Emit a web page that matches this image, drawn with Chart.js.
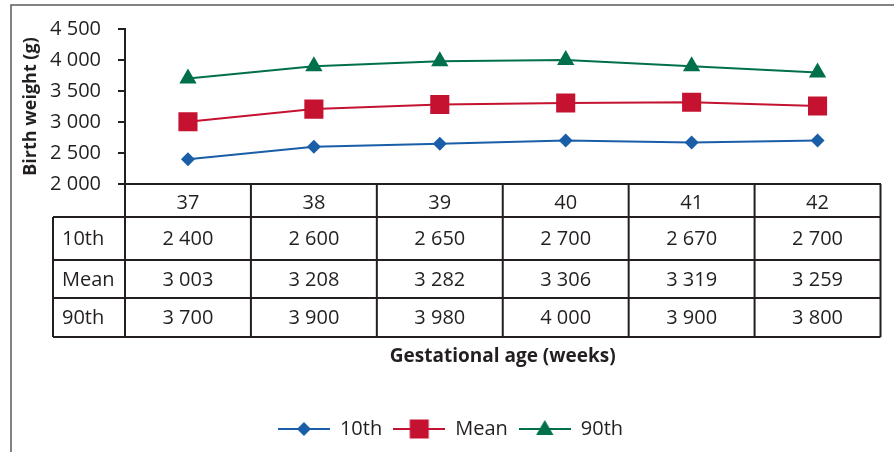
<!DOCTYPE html>
<html>
<head>
<meta charset="utf-8">
<script src="https://cdn.jsdelivr.net/npm/chart.js@4/dist/chart.umd.min.js"></script>
<style>
    html, body { margin: 0; padding: 0; background: #fff; }
    #wrap { width: 894px; height: 452px; position: relative; }
</style>
</head>
<body>
<div id="wrap"><canvas id="chart" width="894" height="452"></canvas></div>
<script>
// Birth weight by gestational age
const weeks = ['37', '38', '39', '40', '41', '42'];
const seriesNames = ['10th', 'Mean', '90th'];
const p10 = [2400, 2600, 2650, 2700, 2670, 2700];
const mean = [3003, 3208, 3282, 3306, 3319, 3259];
const p90 = [3700, 3900, 3980, 4000, 3900, 3800];
const yTicks = [2000, 2500, 3000, 3500, 4000, 4500];

const INK = '#231f20';
const BLUE = '#1a5ea8';
const RED = '#c41230';
const GREEN = '#00704c';

// "2400" -> "2 400"
const fmt = v => String(v).replace(/\B(?=(\d{3})+(?!\d))/g, ' ');

Chart.defaults.font.family = "'Open Sans', 'Noto Sans', sans-serif";
Chart.defaults.color = INK;

// small canvas icons for the legend: line with the marker in the middle
function legendIcon(color, shape) {
    const c = document.createElement('canvas');
    c.width = 52;
    c.height = 22;
    const g = c.getContext('2d');
    g.strokeStyle = color;
    g.lineWidth = 2;
    g.beginPath();
    g.moveTo(0, 11);
    g.lineTo(52, 11);
    g.stroke();
    g.fillStyle = color;
    g.beginPath();
    if (shape === 'diamond') {
        g.moveTo(26, 4); g.lineTo(33, 11); g.lineTo(26, 18); g.lineTo(19, 11);
    } else if (shape === 'square') {
        g.rect(16.5, 1.5, 19, 19);
    } else {
        g.moveTo(26, 2); g.lineTo(34.7, 17); g.lineTo(17.3, 17);
    }
    g.closePath();
    g.fill();
    return c;
}
const icons = [legendIcon(BLUE, 'diamond'), legendIcon(RED, 'square'), legendIcon(GREEN, 'triangle')];

// frame around the figure (only top and left edges are inside the picture)
const framePlugin = {
    id: 'frame',
    beforeDraw(chart) {
        const ctx = chart.ctx;
        ctx.save();
        ctx.strokeStyle = '#5a5a5a';
        ctx.lineWidth = 1.5;
        ctx.beginPath();
        ctx.moveTo(11, chart.height);
        ctx.lineTo(11, 5);
        ctx.lineTo(chart.width, 5);
        ctx.stroke();
        ctx.restore();
    }
};

// data table under the x axis, columns taken from the category scale
const tablePlugin = {
    id: 'dataTable',
    afterDraw(chart) {
        const ctx = chart.ctx;
        const area = chart.chartArea;
        const xs = chart.scales.x;
        const n = weeks.length;
        const colW = (area.right - area.left) / n;
        const labelLeft = area.left - 72;
        const rowH = [33, 43, 38, 39];
        const rowsY = [area.bottom];
        rowH.forEach(h => rowsY.push(rowsY[rowsY.length - 1] + h));
        const bottom = rowsY[rowsY.length - 1];
        const rows = [p10, mean, p90];

        ctx.save();
        ctx.strokeStyle = INK;
        ctx.lineWidth = 2;
        ctx.beginPath();
        // horizontal lines
        for (let r = 1; r < rowsY.length; r++) {
            ctx.moveTo(labelLeft, rowsY[r]);
            ctx.lineTo(area.right, rowsY[r]);
        }
        // column lines
        for (let i = 0; i <= n; i++) {
            const x = area.left + i * colW;
            ctx.moveTo(x, area.bottom);
            ctx.lineTo(x, bottom);
        }
        ctx.moveTo(labelLeft, rowsY[1]);
        ctx.lineTo(labelLeft, bottom);
        ctx.stroke();

        ctx.fillStyle = INK;
        ctx.font = "20px 'Open Sans', sans-serif";
        ctx.textBaseline = 'middle';
        ctx.textAlign = 'center';
        weeks.forEach((w, i) => {
            const cx = xs.getPixelForValue(i);
            ctx.fillText(w, cx, (rowsY[0] + rowsY[1]) / 2 + 3);
        });
        rows.forEach((vals, r) => {
            const cy = (rowsY[r + 1] + rowsY[r + 2]) / 2 + 1;
            ctx.textAlign = 'left';
            ctx.fillText(seriesNames[r], labelLeft + 9, cy);
            ctx.textAlign = 'center';
            vals.forEach((v, i) => {
                ctx.fillText(fmt(v), xs.getPixelForValue(i), cy);
            });
        });
        ctx.restore();
    }
};

function line(label, data, color, style, radius) {
    return {
        label: label,
        data: data,
        borderColor: color,
        backgroundColor: color,
        borderWidth: 2,
        pointStyle: style,
        pointRadius: radius,
        pointHoverRadius: radius,
        pointBorderWidth: 0,
        tension: 0
    };
}

new Chart(document.getElementById('chart'), {
    type: 'line',
    data: {
        labels: weeks,
        datasets: [
            line('10th', p10, BLUE, 'rectRot', 7),
            line('Mean', mean, RED, 'rect', 13.5),
            line('90th', p90, GREEN, 'triangle', 10)
        ]
    },
    options: {
        responsive: false,
        animation: false,
        events: [],
        layout: {
            padding: { left: 14, top: 25, right: 7, bottom: 3 }
        },
        plugins: {
            tooltip: { enabled: false },
            legend: {
                position: 'bottom',
                labels: {
                    usePointStyle: true,
                    pointStyleWidth: 52,
                    padding: 11,
                    font: { size: 20 },
                    color: INK,
                    generateLabels(chart) {
                        const items = Chart.defaults.plugins.legend.labels.generateLabels(chart);
                        items.forEach((item, i) => { item.pointStyle = icons[i]; });
                        return items;
                    }
                }
            }
        },
        scales: {
            x: {
                offset: true,
                grid: { display: false, drawTicks: false },
                border: { display: true, color: INK, width: 2 },
                ticks: { display: false },
                title: {
                    display: true,
                    text: 'Gestational age (weeks)',
                    font: { size: 19, weight: 'bold' },
                    color: INK,
                    padding: { top: 0, bottom: 40 }
                },
                afterFit(scale) { scale.height = 224; }
            },
            y: {
                min: 2000,
                max: 4500,
                afterBuildTicks(scale) { scale.ticks = yTicks.map(v => ({ value: v })); },
                grid: { drawOnChartArea: false, drawTicks: true, tickLength: 7, color: INK, lineWidth: 2 },
                border: { display: true, color: INK, width: 2 },
                ticks: {
                    padding: 17,
                    font: { size: 20 },
                    color: INK,
                    callback: v => fmt(v)
                },
                title: {
                    display: true,
                    text: 'Birth weight (g)',
                    font: { size: 18, weight: 'bold' },
                    color: INK,
                    padding: { top: 6, bottom: 0 }
                },
                afterFit(scale) { scale.width = 111; }
            }
        }
    },
    plugins: [framePlugin, tablePlugin]
});
</script>
</body>
</html>
